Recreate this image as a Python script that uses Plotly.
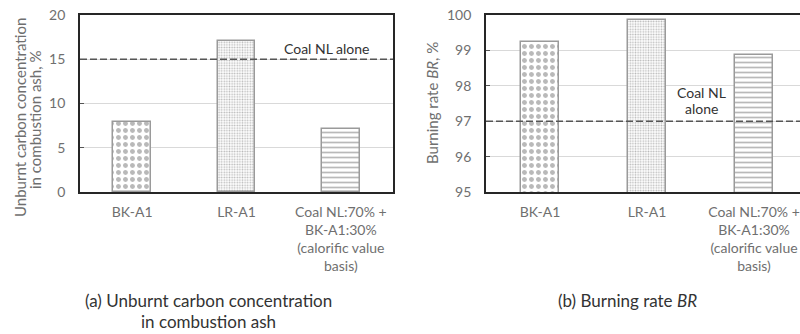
import plotly.graph_objects as go

categories = ["BK-A1", "LR-A1", "Coal NL:70% +<br>BK-A1:30%<br>(calorific value<br>basis)"]
unburnt_carbon = [7.95, 17.1, 7.1]
burning_rate = [99.23, 99.86, 98.86]
coal_nl_unburnt = 15
coal_nl_burning = 97
patterns = [(".", 7, 0.4), (".", 2.6, 0.35), ("-", 5, 0.34)]

W, H = 800, 334
FONT = "Lato"
TICK_COL = "#6f6f6f"
TXT_COL = "#333333"

def px(x):
    return x / W

def py(y):
    return 1 - y / H

fig = go.Figure()

for axis_x, axis_y, vals in [("x", "y", unburnt_carbon), ("x2", "y2", burning_rate)]:
    for i, (cat, v) in enumerate(zip(categories, vals)):
        shp, sz, sol = patterns[i]
        fig.add_trace(go.Bar(
            x=[cat], y=[v], xaxis=axis_x, yaxis=axis_y, width=0.36,
            marker=dict(color="white", line=dict(color="#9a9a9a", width=1.5),
                        pattern=dict(shape=shp, size=sz, solidity=sol,
                                     fgcolor="#737373", bgcolor="white", fillmode="overlay")),
            showlegend=False, hoverinfo="skip",
        ))

axis_common = dict(showline=True, linecolor="#262626", linewidth=1.8, automargin=False,
                   tickfont=dict(family=FONT, size=14, color=TICK_COL))

fig.update_layout(
    width=W, height=H, margin=dict(l=0, r=0, t=0, b=0, autoexpand=False),
    paper_bgcolor="white", plot_bgcolor="white", bargap=0,
    xaxis=dict(domain=[px(80), px(393)], anchor="y", type="category",
               categoryorder="array", categoryarray=categories,
               range=[-0.5, 2.5], mirror=True, ticks="", ticklabelstandoff=6, **axis_common),
    yaxis=dict(domain=[py(192), py(15)], anchor="x", range=[0, 20], dtick=5,
               mirror=True, showgrid=True, gridcolor="#d9d9d9", gridwidth=1,
               ticks="inside", ticklen=4, tickcolor="#555", ticklabelstandoff=10, **axis_common),
    xaxis2=dict(domain=[px(486), 1.0], anchor="y2", type="category",
                categoryorder="array", categoryarray=categories,
                range=[-0.505, 2.43], mirror=True, ticks="", ticklabelstandoff=6, **axis_common),
    yaxis2=dict(domain=[py(192), py(15)], anchor="x2", range=[95, 100], dtick=1,
                showgrid=True, gridcolor="#d9d9d9", gridwidth=1,
                ticks="inside", ticklen=4, tickcolor="#555", ticklabelstandoff=10, **axis_common),
)

dash = dict(color="#555555", width=1.5, dash="7px,3px")
fig.add_shape(type="line", xref="x domain", yref="y", x0=0, x1=1,
              y0=coal_nl_unburnt, y1=coal_nl_unburnt, line=dash)
fig.add_shape(type="line", xref="x2 domain", yref="y2", x0=0, x1=1,
              y0=coal_nl_burning, y1=coal_nl_burning, line=dash)

def ann(text, x, y, size=14, color=TXT_COL, angle=0):
    fig.add_annotation(text=text, x=px(x), y=py(y), xref="paper", yref="paper",
                       showarrow=False, textangle=angle, xanchor="center", yanchor="middle",
                       font=dict(family=FONT, size=size, color=color))

ann("Coal NL alone", 326, 48.5)
ann("Coal NL", 701, 92.5)
ann("alone", 701, 108.5)

ann("Unburnt carbon concentration", 20, 118, size=15, color=TICK_COL, angle=-90)
ann("in combustion ash, %", 35, 120, size=15, color=TICK_COL, angle=-90)
ann("Burning rate <i>BR</i>, %", 432, 103, size=15, color=TICK_COL, angle=-90)

ann("(a) Unburnt carbon concentration", 208, 300, size=17)
ann("in combustion ash", 208, 321, size=17)
ann("(b) Burning rate <i>BR</i>", 627, 300, size=17)

fig.write_html("out.html")
